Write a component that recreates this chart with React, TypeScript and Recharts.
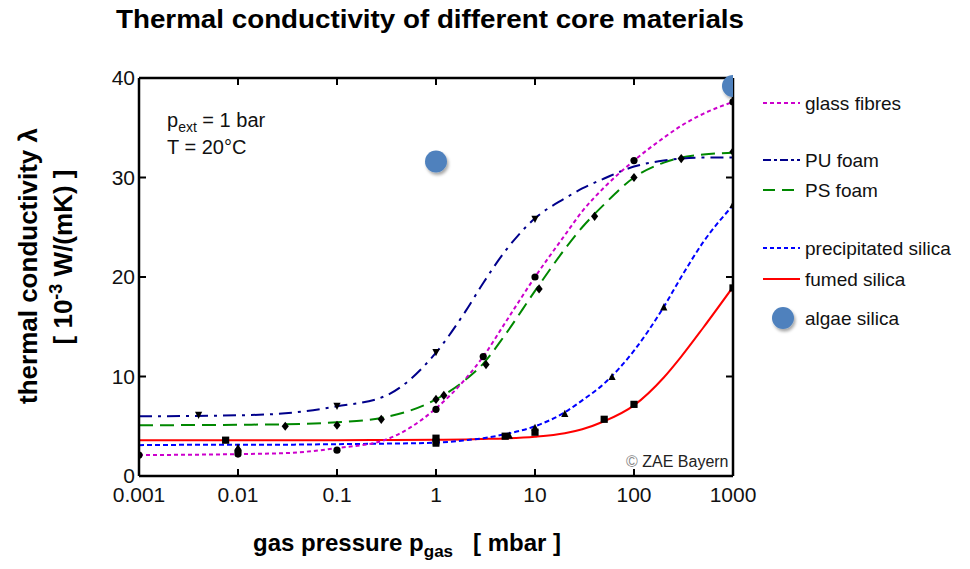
import React from 'react';
import { ComposedChart, Line, Scatter, XAxis, YAxis } from 'recharts';

// gas pressure grid (mbar) the fitted curves are read at
const pressures = [0.001, 0.01, 0.03, 0.1, 0.3, 1, 2, 3, 5, 10, 20, 30, 50, 100, 200, 300, 500, 1000];

// fitted curves, lambda in 10^-3 W/(mK)
const glassFibres = [2.1, 2.2, 2.3, 2.8, 3.6, 6.8, 9.8, 12.0, 15.4, 20.0, 24.2, 26.6, 29.0, 31.7, 34.0, 35.2, 36.4, 37.6];
const puFoam = [6.0, 6.1, 6.3, 7.0, 8.0, 12.4, 16.6, 19.4, 22.6, 25.9, 27.9, 28.9, 29.9, 31.1, 31.7, 31.9, 32.0, 32.0];
const psFoam = [5.1, 5.15, 5.2, 5.4, 5.9, 7.7, 9.7, 11.3, 14.2, 18.6, 22.8, 25.0, 27.3, 30.0, 31.5, 32.0, 32.3, 32.5];
const precipitatedSilica = [3.1, 3.15, 3.15, 3.2, 3.25, 3.35, 3.6, 3.8, 4.2, 5.0, 6.4, 7.6, 9.3, 12.6, 17.0, 20.0, 23.5, 27.2];
const fumedSilica = [3.6, 3.6, 3.6, 3.6, 3.62, 3.65, 3.68, 3.72, 3.78, 3.95, 4.3, 4.7, 5.5, 7.1, 9.9, 12.0, 14.9, 19.0];

// measured points [pressure, lambda]
const glassPoints = [[0.001, 2.1], [0.01, 2.2], [0.01, 2.5], [0.1, 2.6], [1, 6.7], [3, 12.0], [10, 20.0], [100, 31.7], [1000, 37.6]];
const puPoints = [[0.004, 6.1], [0.1, 7.0], [1, 12.4], [10, 25.8]];
const psPoints = [[0.03, 5.0], [0.1, 5.1], [0.28, 5.7], [1, 7.7], [1.2, 8.1], [3.2, 11.2], [11, 18.8], [40, 26.1], [100, 30.0], [300, 31.9], [1000, 32.6]];
const precipPoints = [[0.01, 2.9], [1, 3.3], [5.5, 4.1], [10, 4.9], [20, 6.3], [60, 10.0], [200, 17.0], [1000, 27.3]];
const fumedPoints = [[0.0075, 3.6], [1, 3.8], [1, 3.4], [5, 4.0], [10, 4.4], [50, 5.7], [100, 7.2], [1000, 18.9]];
const algaePoints = [[1, 31.6], [1000, 39.2]];

const xTicks = [0.001, 0.01, 0.1, 1, 10, 100, 1000];
const yTicks = [0, 10, 20, 30, 40];

const curveRows = pressures.map((p, i) => ({
  p,
  glass: glassFibres[i],
  pu: puFoam[i],
  ps: psFoam[i],
  precip: precipitatedSilica[i],
  fumed: fumedSilica[i],
}));

const toPoints = (pairs: number[][]) => pairs.map(([p, v]) => ({ p, v }));

const FONT = '"Liberation Sans", Arial, Helvetica, sans-serif';

const BottomTick = ({ x, y, payload }: any) => (
  <g>
    <line x1={x} x2={x} y1={y} y2={y - 7} stroke='#000' strokeWidth={2} />
    <text x={x} y={y + 26} textAnchor='middle' fontSize={21} fill='#111' fontFamily={FONT}>
      {payload.value}
    </text>
  </g>
);

const TopTick = ({ x, y }: any) => (
  <line x1={x} x2={x} y1={y} y2={y + 7} stroke='#000' strokeWidth={2} />
);

const LeftTick = ({ x, y, payload }: any) => (
  <g>
    <line x1={x} x2={x + 7} y1={y} y2={y} stroke='#000' strokeWidth={2} />
    <text x={x - 4} y={y + 7} textAnchor='end' fontSize={21} fill='#111' fontFamily={FONT}>
      {payload.value}
    </text>
  </g>
);

const RightTick = ({ x, y }: any) => (
  <line x1={x} x2={x - 7} y1={y} y2={y} stroke='#000' strokeWidth={2} />
);

const marker = (kind: string) => (props: any) => {
  const { cx, cy } = props;
  const s = 3.6;
  if (kind === 'circle') return <circle cx={cx} cy={cy} r={s} fill='#000' />;
  if (kind === 'square') return <rect x={cx - s} y={cy - s} width={2 * s} height={2 * s} fill='#000' />;
  if (kind === 'diamond')
    return <path d={`M${cx},${cy - s - 1}L${cx + s},${cy}L${cx},${cy + s + 1}L${cx - s},${cy}Z`} fill='#000' />;
  if (kind === 'down')
    return <path d={`M${cx - s},${cy - s}L${cx + s},${cy - s}L${cx},${cy + s}Z`} fill='#000' />;
  return <path d={`M${cx - s},${cy + s}L${cx + s},${cy + s}L${cx},${cy - s}Z`} fill='#000' />;
};

const algaeDot = (props: any) => (
  <circle cx={props.cx} cy={props.cy} r={11} fill='#4f81bd' filter='url(#algaeShadow)' />
);

const legendRows = [
  { name: 'glass fibres', color: '#cc00cc', dash: '4 3', y: 103 },
  { name: 'PU foam', color: '#00008b', dash: '8 3 3 3', y: 160 },
  { name: 'PS foam', color: '#008800', dash: '12 7', y: 190 },
  { name: 'precipitated silica', color: '#0000ff', dash: '4 3', y: 248 },
  { name: 'fumed silica', color: '#ff0000', dash: undefined, y: 279 },
];

const frameLine = { stroke: '#000', strokeWidth: 2.5 };

export default function App() {
  return (
    <div
      style={{
        position: 'absolute',
        left: 0,
        top: 0,
        width: 970,
        height: 569,
        background: '#fff',
        fontFamily: FONT,
      }}
    >
      <ComposedChart
        width={970}
        height={569}
        data={curveRows}
        margin={{ top: 77, right: 236, left: 99, bottom: 63 }}
      >
        <XAxis
          xAxisId='bottom'
          dataKey='p'
          type='number'
          scale='log'
          domain={[0.001, 1000]}
          allowDataOverflow
          ticks={xTicks}
          height={30}
          tickSize={0}
          tickMargin={0}
          tickLine={false}
          tick={<BottomTick />}
          axisLine={frameLine}
          interval={0}
        />
        <XAxis
          xAxisId='top'
          orientation='top'
          dataKey='p'
          type='number'
          scale='log'
          domain={[0.001, 1000]}
          allowDataOverflow
          ticks={xTicks.slice(1, -1)}
          height={1}
          tickSize={0}
          tickMargin={0}
          tickLine={false}
          tick={<TopTick />}
          axisLine={frameLine}
          interval={0}
        />
        <YAxis
          yAxisId='left'
          type='number'
          domain={[0, 40]}
          ticks={yTicks}
          width={40}
          tickSize={0}
          tickMargin={0}
          tickLine={false}
          tick={<LeftTick />}
          axisLine={frameLine}
          interval={0}
        />
        <YAxis
          yAxisId='right'
          orientation='right'
          type='number'
          domain={[0, 40]}
          allowDataOverflow
          ticks={yTicks.slice(1, -1)}
          width={1}
          tickSize={0}
          tickMargin={0}
          tickLine={false}
          tick={<RightTick />}
          axisLine={frameLine}
          interval={0}
        />

        {/* invisible series so the top and right frame axes get a scale */}
        <Line xAxisId='top' yAxisId='right' dataKey='glass' stroke='none' dot={false} legendType='none' isAnimationActive={false} />

        <Line xAxisId='bottom' yAxisId='left' type='monotone' dataKey='fumed' stroke='#ff0000' strokeWidth={2} dot={false} isAnimationActive={false} />
        <Line xAxisId='bottom' yAxisId='left' type='monotone' dataKey='precip' stroke='#0000ff' strokeWidth={2} strokeDasharray='5 3' dot={false} isAnimationActive={false} />
        <Line xAxisId='bottom' yAxisId='left' type='monotone' dataKey='ps' stroke='#008800' strokeWidth={2} strokeDasharray='14 7' dot={false} isAnimationActive={false} />
        <Line xAxisId='bottom' yAxisId='left' type='monotone' dataKey='pu' stroke='#00008b' strokeWidth={2} strokeDasharray='13 6 3 6' dot={false} isAnimationActive={false} />
        <Line xAxisId='bottom' yAxisId='left' type='monotone' dataKey='glass' stroke='#cc00cc' strokeWidth={2} strokeDasharray='4 3' dot={false} isAnimationActive={false} />

        <Scatter xAxisId='bottom' yAxisId='left' data={toPoints(glassPoints)} dataKey='v' shape={marker('circle')} isAnimationActive={false} />
        <Scatter xAxisId='bottom' yAxisId='left' data={toPoints(puPoints)} dataKey='v' shape={marker('down')} isAnimationActive={false} />
        <Scatter xAxisId='bottom' yAxisId='left' data={toPoints(psPoints)} dataKey='v' shape={marker('diamond')} isAnimationActive={false} />
        <Scatter xAxisId='bottom' yAxisId='left' data={toPoints(precipPoints)} dataKey='v' shape={marker('up')} isAnimationActive={false} />
        <Scatter xAxisId='bottom' yAxisId='left' data={toPoints(fumedPoints)} dataKey='v' shape={marker('square')} isAnimationActive={false} />
        <Scatter xAxisId='bottom' yAxisId='left' data={toPoints(algaePoints)} dataKey='v' shape={algaeDot} isAnimationActive={false} />
      </ComposedChart>

      <svg
        width={970}
        height={569}
        style={{ position: 'absolute', left: 0, top: 0, pointerEvents: 'none' }}
        fontFamily={FONT}
      >
        <defs>
          <filter id='algaeShadow' x='-50%' y='-50%' width='200%' height='200%'>
            <feDropShadow dx='1.5' dy='2.5' stdDeviation='1.5' floodColor='#000' floodOpacity='0.35' />
          </filter>
        </defs>

        <text
          x={430}
          y={28}
          textAnchor='middle'
          fontSize={26}
          fontWeight='bold'
          fill='#000'
          textLength={628}
          lengthAdjust='spacingAndGlyphs'
        >
          Thermal conductivity of different core materials
        </text>

        <text transform='translate(37,266) rotate(-90)' textAnchor='middle' fontSize={26} fontWeight='bold' fill='#000'>
          thermal conductivity λ
        </text>
        <text transform='translate(72,257) rotate(-90)' textAnchor='middle' fontSize={26} fontWeight='bold' fill='#000'>
          [ 10<tspan fontSize={18} dy={-10}>-3</tspan>
          <tspan dy={10}> W/(mK) ]</tspan>
        </text>

        <text x={253} y={551} fontSize={24} fontWeight='bold' fill='#000'>
          gas pressure p<tspan fontSize={17} dy={6}>gas</tspan>
          <tspan dy={-6} xmlSpace='preserve'>{'   [ mbar ]'}</tspan>
        </text>

        <text x={167} y={127} fontSize={20} fill='#111'>
          p<tspan fontSize={14} dy={5}>ext</tspan>
          <tspan dy={-5}> = 1 bar</tspan>
        </text>
        <text x={167} y={154} fontSize={20} fill='#111'>
          T = 20°C
        </text>

        <text x={626} y={467} fontSize={16} fill='#222'>
          <tspan fill='#888'>©</tspan> ZAE Bayern
        </text>

        {legendRows.map((r) => (
          <g key={r.name}>
            <line x1={763} x2={800} y1={r.y} y2={r.y} stroke={r.color} strokeWidth={2} strokeDasharray={r.dash} />
            <text x={805} y={r.y + 7} fontSize={19} fill='#111'>
              {r.name}
            </text>
          </g>
        ))}
        <circle cx={783} cy={318} r={11} fill='#4f81bd' filter='url(#algaeShadow)' />
        <text x={805} y={325} fontSize={19} fill='#111'>
          algae silica
        </text>
      </svg>
    </div>
  );
}
